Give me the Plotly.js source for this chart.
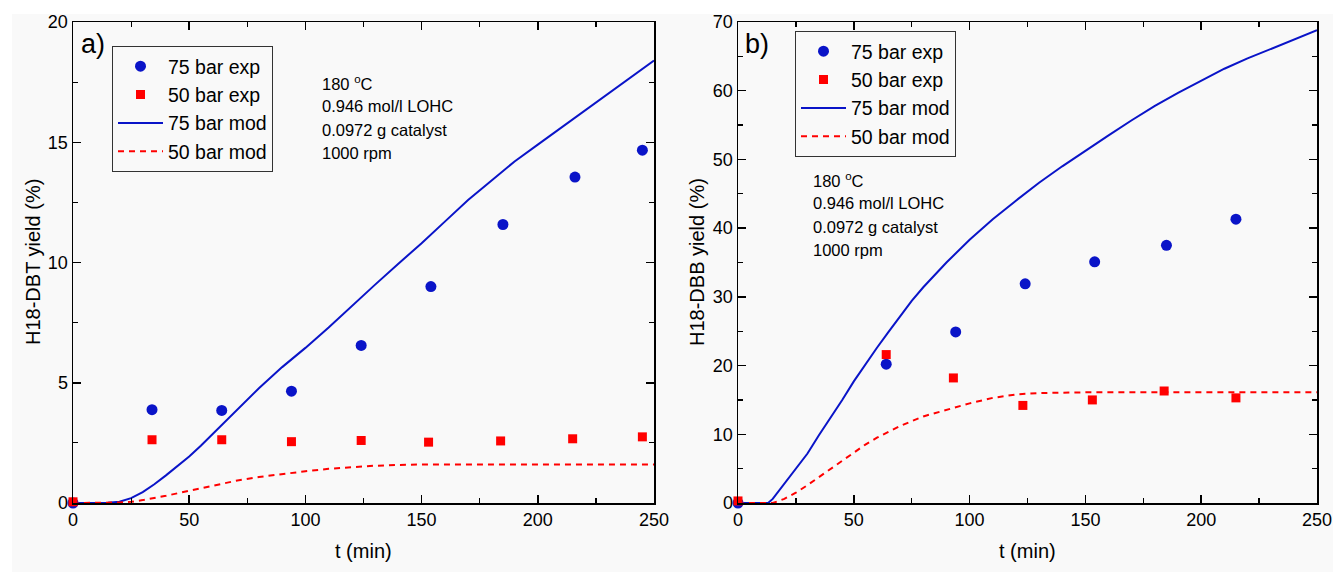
<!DOCTYPE html>
<html>
<head>
<meta charset="utf-8">
<script src="https://cdn.plot.ly/plotly-3.0.1.min.js"></script>
<style>html,body{margin:0;padding:0;background:#fff;}#chart{width:1333px;height:572px;}</style>
</head>
<body>
<div id="chart"></div>
<script>
// ---------- Panel a) H18-DBT ----------
const expTimeA75 = [0, 34, 64, 94, 124, 154, 185, 216, 245];
const expYieldA75 = [0, 3.88, 3.85, 4.65, 6.55, 9.0, 11.58, 13.55, 14.67];
const expTimeA50 = [0, 34, 64, 94, 124, 153, 184, 215, 245];
const expYieldA50 = [0.05, 2.63, 2.63, 2.55, 2.6, 2.53, 2.58, 2.67, 2.75];

const modTimeA75 = [0, 5, 10, 15, 20, 25, 30, 35, 40, 45, 50, 55, 60, 65, 70, 75, 80, 90, 100, 110, 120, 130, 140, 150, 160, 170, 180, 190, 200, 210, 220, 230, 240, 250];
const modYieldA75 = [0, 0, 0, 0.01, 0.05, 0.2, 0.45, 0.78, 1.15, 1.53, 1.93, 2.38, 2.85, 3.34, 3.82, 4.3, 4.77, 5.65, 6.45, 7.3, 8.2, 9.08, 9.95, 10.8, 11.7, 12.6, 13.4, 14.2, 14.9, 15.6, 16.3, 17.0, 17.7, 18.4];
const modTimeA50 = [0, 10, 15, 20, 25, 30, 40, 50, 60, 70, 80, 90, 100, 110, 120, 130, 140, 150, 175, 200, 225, 250];
const modYieldA50 = [0, 0, 0, 0.02, 0.05, 0.12, 0.3, 0.5, 0.72, 0.92, 1.08, 1.21, 1.32, 1.42, 1.5, 1.55, 1.58, 1.6, 1.6, 1.6, 1.6, 1.6];

// ---------- Panel b) H18-DBB ----------
const expTimeB75 = [0, 64, 94, 124, 154, 185, 215];
const expYieldB75 = [0, 20.2, 24.9, 31.9, 35.1, 37.5, 41.3];
const expTimeB50 = [0, 64, 93, 123, 153, 184, 215];
const expYieldB50 = [0.3, 21.6, 18.2, 14.2, 15.0, 16.3, 15.3];

const modTimeB75 = [0, 5, 10, 13, 15, 20, 25, 30, 35, 40, 45, 50, 55, 60, 65, 70, 75, 80, 90, 100, 110, 120, 130, 140, 150, 160, 170, 180, 190, 200, 210, 220, 230, 240, 250];
const modYieldB75 = [0, 0, 0, 0, 0.6, 2.8, 4.9, 7.2, 9.9, 12.4, 15.0, 17.7, 20.2, 22.6, 24.9, 27.2, 29.4, 31.4, 35.0, 38.3, 41.3, 44.0, 46.6, 49.0, 51.3, 53.5, 55.7, 57.8, 59.7, 61.5, 63.2, 64.7, 66.1, 67.5, 68.8];
const modTimeB50 = [0, 10, 15, 20, 25, 30, 35, 40, 45, 50, 55, 60, 70, 80, 90, 100, 110, 120, 130, 140, 150, 175, 200, 225, 250];
const modYieldB50 = [0, 0, 0, 0.6, 1.5, 2.6, 3.8, 5.0, 6.2, 7.4, 8.5, 9.5, 11.2, 12.6, 13.6, 14.5, 15.3, 15.8, 16.0, 16.1, 16.1, 16.1, 16.1, 16.1, 16.1];

const legendNames = ["75 bar exp", "50 bar exp", "75 bar mod", "50 bar mod"];
const conditions = ["180 <sup>o</sup>C", "0.946 mol/l LOHC", "0.0972 g catalyst", "1000 rpm"];
const xTicks = [0, 50, 100, 150, 200, 250];

const BLUE = "#0a14c8";
const RED = "#ff0000";
const FONT = "Liberation Sans, Arial, sans-serif";

function traces(xa, ya, leg, t75, y75, t50, y50, mt75, my75, mt50, my50) {
  // lines first so markers are drawn on top; legendrank keeps reference legend order
  return [
    {x: mt75, y: my75, xaxis: xa, yaxis: ya, legend: leg, legendrank: 3, name: legendNames[2], mode: "lines", type: "scatter",
     line: {color: BLUE, width: 2}},
    {x: mt50, y: my50, xaxis: xa, yaxis: ya, legend: leg, legendrank: 4, name: legendNames[3], mode: "lines", type: "scatter",
     line: {color: RED, width: 2, dash: "6px,5px"}},
    {x: t75, y: y75, xaxis: xa, yaxis: ya, legend: leg, legendrank: 1, name: legendNames[0], mode: "markers", type: "scatter",
     marker: {symbol: "circle", size: 11, color: BLUE}, cliponaxis: false},
    {x: t50, y: y50, xaxis: xa, yaxis: ya, legend: leg, legendrank: 2, name: legendNames[1], mode: "markers", type: "scatter",
     marker: {symbol: "square", size: 9, color: RED}, cliponaxis: false}
  ];
}

const data = [
  ...traces("x", "y", "legend", expTimeA75, expYieldA75, expTimeA50, expYieldA50, modTimeA75, modYieldA75, modTimeA50, modYieldA50),
  ...traces("x2", "y2", "legend2", expTimeB75, expYieldB75, expTimeB50, expYieldB50, modTimeB75, modYieldB75, modTimeB50, modYieldB50)
];

const L = 73, R = 16, T = 22, B = 69, W = 1333, H = 572;
const PW = W - L - R, PH = H - T - B;
const px = v => (v - L) / PW;      // pixel x -> paper
const py = v => (H - B - v) / PH;  // pixel y -> paper

function axis(domain, range, dtick, minor) {
  return {
    domain: domain, range: range, dtick: dtick, tick0: 0,
    showgrid: false, zeroline: false, showline: true, linecolor: "#000", linewidth: 1.5,
    mirror: "ticks", ticks: "inside", ticklen: 8, tickwidth: 1.5, tickcolor: "#000",
    minor: {dtick: minor, ticks: "inside", ticklen: 5, tickwidth: 1.2, tickcolor: "#000"},
    tickfont: {family: FONT, size: 18, color: "#000"}, fixedrange: true
  };
}

const annotations = [];
function ann(text, x, y, size, opts) {
  annotations.push(Object.assign({text: text, xref: "paper", yref: "paper", x: px(x), y: py(y),
    showarrow: false, xanchor: "left", yanchor: "middle", font: {family: FONT, size: size, color: "#000"}}, opts || {}));
}
ann("a)", 79, 44, 27);
ann("b)", 743, 44, 27);
conditions.forEach((c, i) => ann(c, 320, 83 + i * 23.3, 16.5));
conditions.forEach((c, i) => ann(c, 811, 180 + i * 23.3, 16.5));
ann("t (min)", 363, 551, 20, {xanchor: "center"});
ann("t (min)", 1027, 551, 20, {xanchor: "center"});
ann("H18-DBT yield (%)", 33, 262, 20, {xanchor: "center", textangle: -90});
ann("H18-DBB yield (%)", 697, 262, 20, {xanchor: "center", textangle: -90});

const legendCommon = {
  bgcolor: "rgba(0,0,0,0)", bordercolor: "#333", borderwidth: 1,
  font: {family: FONT, size: 19.5, color: "#000"}, xanchor: "left", yanchor: "top",
  itemwidth: 45, tracegroupgap: 0, traceorder: "normal"
};

const layout = {
  width: W, height: H,
  margin: {l: L, r: R, t: T, b: B, pad: 0},
  paper_bgcolor: "#ffffff", plot_bgcolor: "rgba(0,0,0,0)",
  showlegend: true,
  xaxis: Object.assign(axis([0, px(654)], [0, 250], 50, 25), {anchor: "y", tickvals: xTicks}),
  yaxis: Object.assign(axis([0, 1], [0, 20], 5, 2.5), {anchor: "x"}),
  xaxis2: Object.assign(axis([px(738), 1], [0, 250], 50, 25), {anchor: "y2", tickvals: xTicks}),
  yaxis2: Object.assign(axis([0, 1], [0, 70], 10, 5), {anchor: "x2"}),
  legend: Object.assign({}, legendCommon, {x: px(112), y: py(46)}),
  legend2: Object.assign({}, legendCommon, {x: px(795), y: py(31)}),
  annotations: annotations,
  shapes: [{type: "rect", xref: "paper", yref: "paper", layer: "below",
    x0: px(12), x1: px(W), y0: py(14), y1: py(H), fillcolor: "#f9f9f9", line: {width: 0}}]
};

Plotly.newPlot("chart", data, layout, {displayModeBar: false, staticPlot: true});
</script>
</body>
</html>
